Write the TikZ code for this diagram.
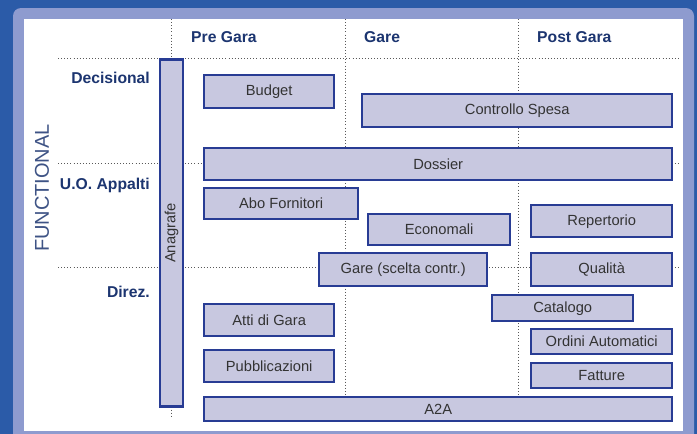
\documentclass[tikz,border=0pt]{standalone}
\usepackage{fontspec}
\setmainfont{Liberation Sans}
\usepackage{xcolor}

\definecolor{bgblue}{HTML}{2B5BA8}
\definecolor{frameblue}{HTML}{8E9BCF}
\definecolor{boxfill}{HTML}{C8C8E0}
\definecolor{boxline}{HTML}{283C94}
\definecolor{headtext}{HTML}{1C3570}
\definecolor{boxtext}{HTML}{333333}

\tikzset{
  blk/.style={draw=boxline, fill=boxfill, line width=2.4pt, inner sep=0pt, anchor=north west, text=boxtext, font=\fontsize{14.7}{17}\selectfont},
  head/.style={text=headtext, inner sep=0pt, font=\fontsize{15.7}{18}\selectfont\bfseries},
  gridline/.style={line width=0.9pt, dash pattern=on 0.9pt off 2.2pt, gray!70!black}
}

\begin{document}
\begin{tikzpicture}[x=1pt, y=-1pt]
 	\useasboundingbox (0,0) rectangle (697,434);
 	% Draw the frame
 	\fill[bgblue] (0,0) rectangle (697,434);
 	\fill[frameblue, rounded corners=8pt] (13,8) rectangle (694,450);
 	\fill[white] (24,19) rectangle (683,431);
 	
 	% Draw the grid
 	\draw[gridline] (171,19) -- (171,417);
 	\draw[gridline] (345,19) -- (345,417);
 	\draw[gridline] (518,19) -- (518,417);
 	\draw[gridline] (58,58) -- (680,58);
 	\draw[gridline] (58,163) -- (680,163);
 	\draw[gridline] (58,267) -- (680,267);
 	
 	% Define the headers
 	\node[head, anchor=west] (pre) at (191,37) {Pre Gara};
 	\node[head, anchor=west] (gare) at (364,37) {Gare};
 	\node[head, anchor=west] (post) at (537,37) {Post Gara};
 	\node[head, anchor=east] (decisional) at (150,78) {Decisional};
 	\node[head, anchor=east] (appalti) at (150,185) {U.O. Appalti};
 	\node[head, anchor=east] (direz) at (150,292) {Direz.};
 	\node[text=headtext!85!white, rotate=90, inner sep=0pt, font=\fontsize{20}{24}\selectfont] (functional) at (42,188) {FUNCTIONAL};
 	
 	% Define the blocks
 	\node[blk, anchor=center, rotate=90, minimum width=347pt, minimum height=23pt] (anagrafe) at (171.5,233) {Anagrafe};
 	\node[blk, minimum width=130pt, minimum height=33pt] (budget) at (203,74) {Budget};
 	\node[blk, minimum width=310pt, minimum height=33pt] (controllo) at (361,93) {Controllo Spesa};
 	\node[blk, minimum width=468pt, minimum height=32pt] (dossier) at (203,147) {Dossier};
 	\node[blk, minimum width=154pt, minimum height=31pt] (abo) at (203,187) {Abo Fornitori};
 	\node[blk, minimum width=142pt, minimum height=31pt] (economali) at (367,213) {Economali};
 	\node[blk, minimum width=141pt, minimum height=32pt] (repertorio) at (530,204) {Repertorio};
 	\node[blk, minimum width=168pt, minimum height=33pt] (garescelta) at (318,252) {Gare (scelta contr.)};
 	\node[blk, minimum width=141pt, minimum height=33pt] (qualita) at (530,252) {Qualità};
 	\node[blk, minimum width=141pt, minimum height=26pt] (catalogo) at (491,294) {Catalogo};
 	\node[blk, minimum width=130pt, minimum height=32pt] (atti) at (203,303) {Atti di Gara};
 	\node[blk, minimum width=141pt, minimum height=25pt] (ordini) at (530,328) {Ordini Automatici};
 	\node[blk, minimum width=130pt, minimum height=32pt] (pubblicazioni) at (203,349) {Pubblicazioni};
 	\node[blk, minimum width=141pt, minimum height=25pt] (fatture) at (530,362) {Fatture};
 	\node[blk, minimum width=468pt, minimum height=24pt] (a2a) at (203,396) {A2A};
 \end{tikzpicture}
\end{document}
